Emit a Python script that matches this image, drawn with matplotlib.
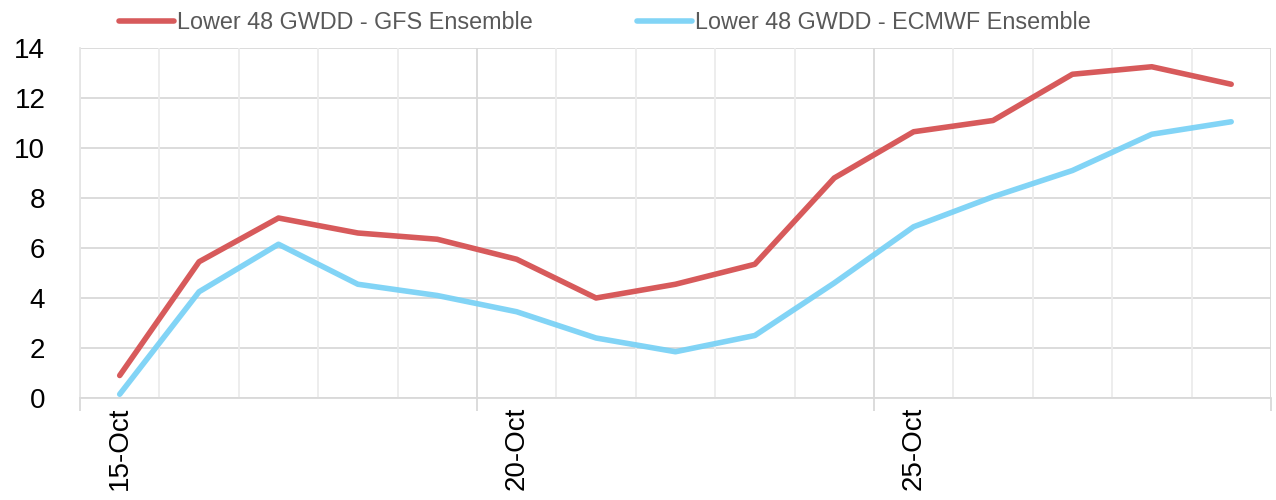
import numpy as np
import matplotlib.pyplot as plt

plt.rcParams['font.family'] = ['Liberation Sans', 'DejaVu Sans']

# data
dates = ['15-Oct', '16-Oct', '17-Oct', '18-Oct', '19-Oct', '20-Oct', '21-Oct', '22-Oct',
         '23-Oct', '24-Oct', '25-Oct', '26-Oct', '27-Oct', '28-Oct', '29-Oct']
gfs = [0.9, 5.45, 7.2, 6.6, 6.35, 5.55, 4.0, 4.55, 5.35, 8.8, 10.65, 11.1, 12.95, 13.25, 12.55]
ecmwf = [0.15, 4.25, 6.15, 4.55, 4.1, 3.45, 2.4, 1.85, 2.5, 4.6, 6.85, 8.05, 9.1, 10.55, 11.05]
label_every = 5

fig = plt.figure(figsize=(12.76, 5.0), dpi=100)
ax = fig.add_axes([0.0627, 0.204, 0.9333, 0.70])

x = np.arange(len(dates))
ax.plot(x, gfs, color='#d75a5b', lw=4, solid_capstyle='round',
        label='Lower 48 GWDD - GFS Ensemble', zorder=3)
ax.plot(x, ecmwf, color='#74d0f5', lw=4, alpha=0.9, solid_capstyle='round',
        label='Lower 48 GWDD - ECMWF Ensemble', zorder=4)

ax.set_xlim(-0.5, len(dates) - 0.5)
ax.set_ylim(0, 14)
ax.set_yticks(np.arange(0, 15, 2))

# category boundaries: light grid every day, darker every 5 days
bounds = np.arange(len(dates) + 1) - 0.5
ax.vlines(bounds[bounds % label_every != 4.5 % label_every], 0, 14,
          color='#ececec', lw=1.3, zorder=1)
ax.set_xticks(bounds[::label_every], minor=True)
ax.tick_params(axis='x', which='minor', length=9, width=1.3, color='#d9d9d9')
ax.grid(True, axis='x', which='minor', color='#d9d9d9', lw=1.3, zorder=1)
ax.grid(True, axis='y', color='#d9d9d9', lw=1.3, zorder=1)

ax.set_xticks(x[::label_every])
ax.set_xticklabels(dates[::label_every], rotation=90, fontsize=20)
ax.tick_params(axis='x', which='major', length=0, pad=6)
ax.tick_params(axis='y', length=0, labelsize=20, pad=25)
for lab in ax.get_yticklabels():
    lab.set_horizontalalignment('right')

for s in ['top', 'right']:
    ax.spines[s].set_visible(False)
ax.spines['left'].set_color('#e6e6e6')
ax.spines['bottom'].set_color('#d9d9d9')
ax.spines['left'].set_linewidth(1.3)
ax.spines['bottom'].set_linewidth(1.3)
ax.set_axisbelow(True)

fig.legend(loc='upper center', bbox_to_anchor=(0.474, 1.02), ncol=2, frameon=False,
           fontsize=16.8, labelcolor='#595959', handlelength=2.36, handletextpad=0.1,
           columnspacing=4.5)

fig.savefig('out.png', dpi=100)
